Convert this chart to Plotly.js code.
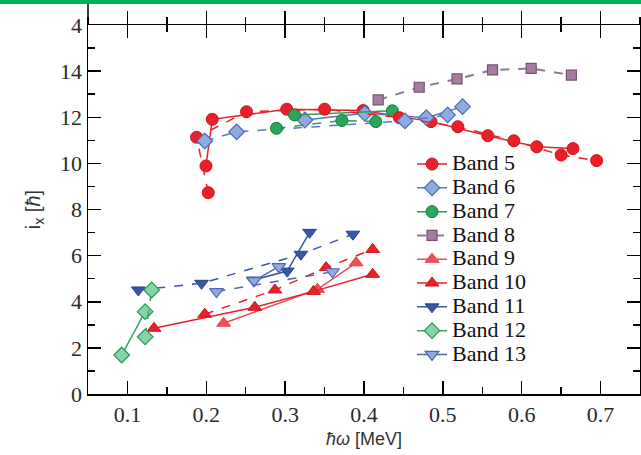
<!DOCTYPE html>
<html>
<head>
<meta charset="utf-8">
<script src="https://cdn.plot.ly/plotly-3.0.1.min.js"></script>
<style>html,body{margin:0;padding:0;background:#fff;}#chart{width:641px;height:455px;}</style>
</head>
<body>
<div id="chart"></div>
<script>
// Band 5 (two signature branches)
const band5aX = [0.1996, 0.2076, 0.302, 0.399, 0.485, 0.557, 0.619, 0.665];
const band5aY = [9.89, 11.91, 12.35, 12.29, 11.81, 11.2, 10.72, 10.64];
const band5bX = [0.2025, 0.1877, 0.251, 0.350, 0.445, 0.519, 0.590, 0.650, 0.695];
const band5bY = [8.73, 11.13, 12.24, 12.35, 11.98, 11.59, 10.98, 10.36, 10.12];
// Band 6
const band6aX = [0.325, 0.401, 0.479, 0.525];
const band6aY = [11.88, 12.17, 11.98, 12.46];
const band6bX = [0.198, 0.2385, 0.452, 0.506];
const band6bY = [10.97, 11.37, 11.84, 12.10];
// Band 7
const band7aX = [0.312, 0.436];
const band7aY = [12.10, 12.28];
const band7bX = [0.289, 0.372, 0.415];
const band7bY = [11.52, 11.86, 11.81];
// Band 8
const band8X = [0.418, 0.470, 0.518, 0.563, 0.612, 0.663];
const band8Y = [12.75, 13.30, 13.66, 14.05, 14.12, 13.83];
// Band 9
const band9X = [0.222, 0.341, 0.390];
const band9Y = [3.07, 4.54, 5.69];
// Band 10
const band10aX = [0.1337, 0.2615, 0.336, 0.411];
const band10aY = [2.85, 3.76, 4.45, 5.19];
const band10bX = [0.198, 0.287, 0.352, 0.411];
const band10bY = [3.46, 4.51, 5.48, 6.27];
// Band 11
const band11aX = [0.2595, 0.3026, 0.331];
const band11aY = [4.94, 5.33, 7.01];
const band11bX = [0.1138, 0.194, 0.320, 0.386];
const band11bY = [4.51, 4.80, 6.06, 6.93];
// Band 12
const band12aX = [0.0927, 0.1225];
const band12aY = [1.69, 3.57];
const band12bX = [0.1225, 0.1307];
const band12bY = [2.48, 4.51];
// Band 13
const band13aX = [0.2605, 0.292];
const band13aY = [4.91, 5.52];
const band13bX = [0.213, 0.360];
const band13bY = [4.44, 5.30];

const yTickVals = [0, 2, 4, 6, 8, 10, 12, 14, 16];
const yTickText = ['0', '2', '4', '6', '8', '10', '12', '14', '4'];
const xTickVals = [0.1, 0.2, 0.3, 0.4, 0.5, 0.6, 0.7];
const xTickText = ['0.1', '0.2', '0.3', '0.4', '0.5', '0.6', '0.7'];

function lg(name) { return '<span style="font-size:22px">' + name + '</span>'; }
function tr(name, x, y, opts) {
  return Object.assign({
    type: 'scatter', mode: 'lines+markers', name: lg(name), x: x, y: y,
    legendgroup: name
  }, opts);
}
const red = '#e8202a';
const traces = [
  tr('Band 5', band5aX, band5aY, {line:{color:red,width:1.5},marker:{symbol:'circle',size:12,color:red,line:{color:'#d01018',width:1}}}),
  tr('Band 6', band6aX, band6aY, {line:{color:'#5a78c8',width:1.5},marker:{symbol:'diamond',size:12,color:'#8eaadf',line:{color:'#4e6bb8',width:1.2}}}),
  tr('Band 7', band7aX, band7aY, {line:{color:'#2e9e5a',width:1.5},marker:{symbol:'circle',size:12,color:'#2aa55c',line:{color:'#157a3c',width:1}}}),
  tr('Band 8', band8X, band8Y, {line:{color:'#8a7a8e',width:2,dash:'dash'},marker:{symbol:'square',size:10,color:'#a47ea0',line:{color:'#765275',width:1.2}}}),
  tr('Band 9', band9X, band9Y, {line:{color:'#ee4a52',width:1.5},marker:{symbol:'triangle-up',size:12,color:'#f0505a',line:{color:'#e83a44',width:1}}}),
  tr('Band 10', band10aX, band10aY, {line:{color:red,width:1.5},marker:{symbol:'triangle-up',size:12,color:red,line:{color:'#d01018',width:1}}}),
  tr('Band 11', band11aX, band11aY, {line:{color:'#3a56a8',width:1.5},marker:{symbol:'triangle-down',size:12,color:'#3a56a8',line:{color:'#2a4290',width:1}}}),
  tr('Band 12', band12aX, band12aY, {line:{color:'#3aa06a',width:1.5},marker:{symbol:'diamond',size:12,color:'#86d4a6',line:{color:'#2e9460',width:1.2}}}),
  tr('Band 13', band13aX, band13aY, {line:{color:'#4f67b4',width:1.5},marker:{symbol:'triangle-down',size:12,color:'#93a9e0',line:{color:'#4f67b4',width:1.2}}}),
  // partner branches (dashed), not in legend
  tr('Band 5', band5bX, band5bY, {showlegend:false,line:{color:red,width:1.5,dash:'dash'},marker:{symbol:'circle',size:12,color:red,line:{color:'#d01018',width:1}}}),
  tr('Band 6', band6bX, band6bY, {showlegend:false,line:{color:'#5a78c8',width:1.5,dash:'dash'},marker:{symbol:'diamond',size:12,color:'#8eaadf',line:{color:'#4e6bb8',width:1.2}}}),
  tr('Band 7', band7bX, band7bY, {showlegend:false,line:{color:'#2e9e5a',width:1.5,dash:'dash'},marker:{symbol:'circle',size:12,color:'#2aa55c',line:{color:'#157a3c',width:1}}}),
  tr('Band 10', band10bX, band10bY, {showlegend:false,line:{color:red,width:1.5,dash:'dash'},marker:{symbol:'triangle-up',size:12,color:red,line:{color:'#d01018',width:1}}}),
  tr('Band 11', band11bX, band11bY, {showlegend:false,line:{color:'#3a56a8',width:1.5,dash:'dash'},marker:{symbol:'triangle-down',size:12,color:'#3a56a8',line:{color:'#2a4290',width:1}}}),
  tr('Band 12', band12bX, band12bY, {showlegend:false,line:{color:'#3aa06a',width:1.5,dash:'dash'},marker:{symbol:'diamond',size:12,color:'#86d4a6',line:{color:'#2e9460',width:1.2}}}),
  tr('Band 13', band13bX, band13bY, {showlegend:false,line:{color:'#4f67b4',width:1.5,dash:'dash'},marker:{symbol:'triangle-down',size:12,color:'#93a9e0',line:{color:'#4f67b4',width:1.2}}}),
  {type:'scatter', x:[], y:[], xaxis:'x2', showlegend:false, hoverinfo:'skip'}
];

const tickFont = {family:'Liberation Serif', size:22, color:'#2a2a2a'};
const layout = {
  width: 641, height: 455,
  margin: {l: 88, r: 1, t: 25, b: 61, pad: 0},
  paper_bgcolor: '#fff', plot_bgcolor: '#fff',
  showlegend: true,
  legend: {x: 0.587, y: 0.669, xanchor: 'left', yanchor: 'top', bgcolor: 'rgba(0,0,0,0)',
           font: {family: 'Liberation Serif', size: 16, color: '#111'}, tracegroupgap: 0, itemwidth: 30},
  xaxis: {
    range: [0.05, 0.75], tickvals: xTickVals, ticktext: xTickText,
    ticks: 'inside', ticklen: 13, tickwidth: 1.5, tickcolor: '#000',
    showline: true, linecolor: '#000', linewidth: 1.5, mirror: 'ticks',
    showgrid: false, zeroline: false, tickfont: tickFont,
    minor: {dtick: 0.05, tick0: 0.05, ticks: 'inside', ticklen: 7, tickwidth: 1.5, tickcolor: '#000', showgrid: false},
    title: {text: '<i>ħω</i> [MeV]', font: {family: 'Liberation Sans', size: 18, color: '#333'}, standoff: 6}
  },
  xaxis2: {
    range: [0.05, 0.75], overlaying: 'x', side: 'top', anchor: 'y',
    tickvals: xTickVals, showticklabels: false,
    ticks: 'outside', ticklen: 13, tickwidth: 1.5, tickcolor: '#000',
    showline: false, showgrid: false, zeroline: false,
    minor: {dtick: 0.05, tick0: 0.05, ticks: 'outside', ticklen: 7, tickwidth: 1.5, tickcolor: '#000', showgrid: false}
  },
  yaxis: {
    range: [0, 16], tickvals: yTickVals, ticktext: yTickText,
    ticks: 'inside', ticklen: 13, tickwidth: 1.5, tickcolor: '#000',
    showline: true, linecolor: '#000', linewidth: 1.5, mirror: 'ticks',
    showgrid: false, zeroline: false, tickfont: tickFont,
    minor: {dtick: 1, tick0: 0, ticks: 'inside', ticklen: 7, tickwidth: 1.5, tickcolor: '#000', showgrid: false},
    title: {text: 'i<sub>x</sub> [<i>ħ</i>]', font: {family: 'Liberation Sans', size: 20, color: '#333'}, standoff: 14}
  },
  shapes: [
    {type: 'rect', xref: 'paper', yref: 'paper', x0: -0.2, x1: 1.1, y0: 1 + 21/369, y1: 1.2,
     fillcolor: '#00b050', line: {width: 0}, layer: 'above'},
    {type: 'line', xref: 'paper', yref: 'paper', x0: 0, x1: 0, y0: 1, y1: 1 + 21/369,
     line: {color: '#000', width: 1.5}}
  ]
};
Plotly.newPlot('chart', traces, layout, {displayModeBar: false, staticPlot: true});
</script>
</body>
</html>
